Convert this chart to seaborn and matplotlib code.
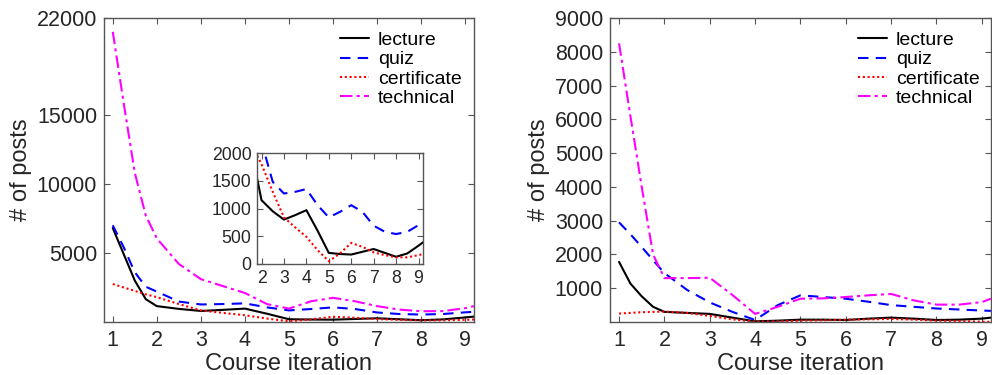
import matplotlib
matplotlib.use("Agg")
import matplotlib.pyplot as plt
import seaborn as sns
import pandas as pd

# ---------------- data ----------------
iteration = [1, 1.25, 1.5, 1.75, 2, 2.5, 3, 3.5, 4, 4.5, 5, 5.5, 6, 6.5, 7, 7.5, 8, 8.5, 9, 9.2]

left_lecture = [6800, 4900, 3000, 1650, 1150, 950, 800, 880, 970, 600, 200, 180, 170, 220, 270, 200, 130, 190, 330, 390]
left_quiz = [7000, 5400, 3600, 2550, 2200, 1480, 1270, 1300, 1350, 1060, 840, 940, 1060, 940, 690, 580, 540, 580, 700, 740]
left_certificate = [2750, 2500, 2250, 2000, 1800, 1300, 840, 660, 490, 250, 50, 190, 380, 310, 210, 160, 120, 120, 160, 180]
left_technical = [21000, 15800, 10800, 7700, 6050, 4200, 3100, 2600, 2100, 1300, 970, 1500, 1750, 1500, 1150, 900, 780, 790, 1000, 1150]

right_lecture = [1780, 1140, 760, 450, 300, 270, 240, 130, 20, 40, 70, 70, 60, 100, 130, 100, 60, 70, 100, 130]
right_quiz = [2950, 2600, 2220, 1830, 1450, 950, 580, 300, 60, 500, 790, 740, 690, 600, 500, 450, 400, 370, 340, 330]
right_certificate = [250, 270, 290, 300, 310, 270, 180, 80, 10, 20, 40, 50, 70, 80, 90, 70, 40, 30, 10, 5]
right_technical = [8250, 6100, 4000, 2000, 1300, 1300, 1310, 800, 240, 450, 690, 700, 740, 790, 830, 640, 515, 515, 590, 690]

categories = ["lecture", "quiz", "certificate", "technical"]
x_ticks = [1, 2, 3, 4, 5, 6, 7, 8, 9]
left_yticks = [5000, 10000, 15000, 22000]
right_yticks = [1000, 2000, 3000, 4000, 5000, 6000, 7000, 8000, 9000]
inset_xticks = [2, 3, 4, 5, 6, 7, 8, 9]
inset_yticks = [0, 500, 1000, 1500, 2000]

# ---------------- style ----------------
sns.set_theme(style="white")
plt.rcParams["font.family"] = ["Liberation Sans", "DejaVu Sans"]

styles = {
    "lecture": dict(color="black", linestyle="-"),
    "quiz": dict(color="#0000ff", linestyle=(0, (5, 3.5))),
    "certificate": dict(color="#ff0000", linestyle=(0, (1, 1.3))),
    "technical": dict(color="#ff00ff", linestyle=(0, (6, 2, 1.5, 2))),
}
LW = 1.5
AXCOL = "#555555"
TXTCOL = "#262626"


def make_df(series):
    rows = []
    for cat, vals in zip(categories, series):
        for xv, yv in zip(iteration, vals):
            rows.append({"iteration": xv, "posts": yv, "type": cat})
    return pd.DataFrame(rows)


def draw(ax, df, label=True):
    for cat in categories:
        sub = df[df["type"] == cat]
        if sub.empty:
            continue
        sns.lineplot(data=sub, x="iteration", y="posts", ax=ax, lw=LW,
                     label=cat if label else None, **styles[cat])


def style_axes(ax, tick_size, pad):
    for s in ax.spines.values():
        s.set_color(AXCOL)
        s.set_linewidth(1.0)
    ax.tick_params(direction="in", bottom=True, left=True, top=True, right=True,
                   length=4, width=0.8, color=AXCOL, labelsize=tick_size,
                   labelcolor=TXTCOL, pad=pad)


def add_legend(ax, x0):
    leg = ax.legend(loc="upper left", bbox_to_anchor=(x0, 0.955), frameon=False,
                    fontsize=14, handlelength=1.5, handletextpad=0.45,
                    labelspacing=0.08, borderpad=0, borderaxespad=0)
    for t in leg.get_texts():
        t.set_color("black")


fig = plt.figure(figsize=(9.92, 3.75), dpi=100)

# ---- left panel ----
axL = fig.add_axes([0.1048, 0.1413, 0.373, 0.8107])
dfL = make_df([left_lecture, left_quiz, left_certificate, left_technical])
draw(axL, dfL)
axL.set_xlim(0.8, 9.2)
axL.set_ylim(0, 22000)
axL.set_xticks(x_ticks)
axL.set_yticks(left_yticks)
style_axes(axL, 15.5, 6)
axL.tick_params(axis="y", pad=5)
axL.set_xlabel("Course iteration", fontsize=17, color=TXTCOL, labelpad=1)
axL.set_ylabel("# of posts", fontsize=17, color=TXTCOL, labelpad=3)
add_legend(axL, 0.638)

# ---- inset ----
axI = fig.add_axes([0.2591, 0.296, 0.1673, 0.296])
draw(axI, dfL[dfL["type"] != "technical"], label=False)
axI.set_xlim(1.8, 9.2)
axI.set_ylim(0, 2000)
axI.set_xticks(inset_xticks)
axI.set_yticks(inset_yticks)
style_axes(axI, 12.7, 4)
axI.set_xlabel("")
axI.set_ylabel("")

# ---- right panel ----
axR = fig.add_axes([0.6149, 0.1413, 0.384, 0.8107])
dfR = make_df([right_lecture, right_quiz, right_certificate, right_technical])
draw(axR, dfR)
axR.set_xlim(0.8, 9.2)
axR.set_ylim(0, 9000)
axR.set_xticks(x_ticks)
axR.set_yticks(right_yticks)
style_axes(axR, 15.5, 6)
axR.tick_params(axis="y", pad=5)
axR.set_xlabel("Course iteration", fontsize=17, color=TXTCOL, labelpad=1)
axR.set_ylabel("# of posts", fontsize=17, color=TXTCOL, labelpad=3)
add_legend(axR, 0.651)

fig.savefig("out.png", dpi=100)
